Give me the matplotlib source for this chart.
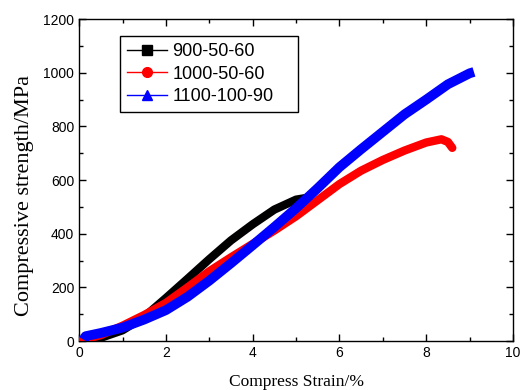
import numpy as np
import matplotlib
matplotlib.use('Agg')
from matplotlib import pyplot as plt
from matplotlib.lines import Line2D
from matplotlib.ticker import MultipleLocator

# strain (%) vs strength (MPa)
strain_900 = [0.0, 0.5, 1.0, 1.5, 2.0, 2.5, 3.0, 3.5, 4.0, 4.5, 5.0, 5.3]
stress_900 = [0, 12, 40, 90, 160, 232, 305, 375, 435, 490, 527, 535]

strain_1000 = [0.0, 0.5, 1.0, 1.5, 2.0, 2.5, 3.0, 3.5, 4.0, 4.5, 5.0, 5.5,
               6.0, 6.5, 7.0, 7.5, 8.0, 8.35, 8.5, 8.6]
stress_1000 = [0, 22, 57, 97, 142, 200, 260, 312, 362, 412, 465, 525,
               585, 635, 675, 710, 740, 752, 742, 720]

strain_1100 = [0.1, 0.15, 0.5, 1.0, 1.5, 2.0, 2.5, 3.0, 3.5, 4.0, 4.5, 5.0,
               5.5, 6.0, 6.5, 7.0, 7.5, 8.0, 8.5, 9.0, 9.1]
stress_1100 = [5, 18, 30, 50, 80, 115, 165, 225, 290, 357, 425, 495,
               570, 648, 715, 780, 845, 900, 957, 998, 1003]

labels = ['900-50-60', '1000-50-60', '1100-100-90']
colors = ['black', 'red', 'blue']
markers = ['s', 'o', '^']

fig = plt.figure(figsize=(5.24, 3.9), dpi=100)
ax = fig.add_axes([0.151, 0.1256, 0.828, 0.8254])

ax.plot(strain_900, stress_900, color='black', lw=6, solid_capstyle='round', zorder=2)
ax.plot(strain_1000, stress_1000, color='red', lw=6, solid_capstyle='round', zorder=3)
ax.plot(strain_1100, stress_1100, color='blue', lw=7, solid_capstyle='butt', zorder=4)

ax.set_xlim(0, 10)
ax.set_ylim(0, 1200)
ax.xaxis.set_major_locator(MultipleLocator(2))
ax.xaxis.set_minor_locator(MultipleLocator(1))
ax.yaxis.set_major_locator(MultipleLocator(200))
ax.yaxis.set_minor_locator(MultipleLocator(100))
ax.tick_params(which='both', direction='in', top=True, right=True, width=1)
ax.tick_params(which='major', length=5, labelsize=10)
ax.tick_params(which='minor', length=3)
for lab in ax.get_xticklabels() + ax.get_yticklabels():
    lab.set_family('Liberation Sans')
for sp in ax.spines.values():
    sp.set_linewidth(1.0)

ax.set_xlabel('Compress Strain/%', family='Liberation Serif', fontsize=12.5, labelpad=10)
ax.set_ylabel('Compressive strength/MPa', family='Liberation Serif', fontsize=16)
ax.yaxis.set_label_coords(-0.105, 0.453)

handles = [Line2D([], [], color=c, marker=m, markersize=7, lw=1)
           for c, m in zip(colors, markers)]
leg = ax.legend(handles, labels, loc='upper left', bbox_to_anchor=(0.094, 0.7, 0.41, 0.247),
                mode='expand', borderaxespad=0, fancybox=False, edgecolor='black',
                framealpha=1, prop={'family': 'Liberation Sans', 'size': 13},
                handlelength=2.2, handletextpad=0.3, labelspacing=0.3,
                borderpad=0.4)
leg.get_frame().set_linewidth(1.0)

plt.savefig('out.png', dpi=100)
